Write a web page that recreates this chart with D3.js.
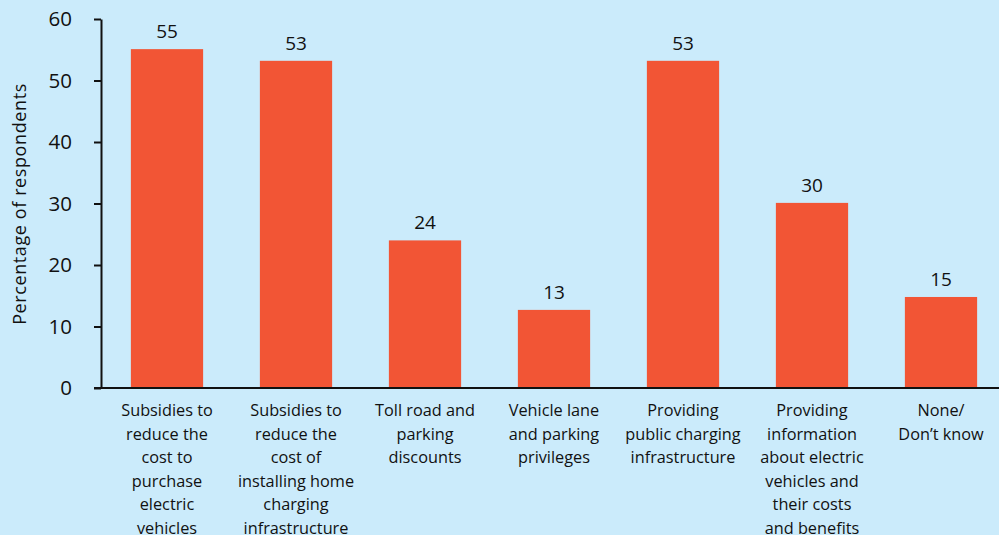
<!DOCTYPE html>
<html><head><meta charset="utf-8">
<script src="https://cdn.jsdelivr.net/npm/d3@7"></script>
<style>
html,body{margin:0;padding:0;background:#cbebfb;}
svg{display:block;font-family:"Open Sans", sans-serif;}
</style></head>
<body>
<svg id="chart" width="999" height="535"></svg>
<script>
const categories = [
  ["Subsidies to","reduce the","cost to","purchase","electric","vehicles"],
  ["Subsidies to","reduce the","cost of","installing home","charging","infrastructure"],
  ["Toll road and","parking","discounts"],
  ["Vehicle lane","and parking","privileges"],
  ["Providing","public charging","infrastructure"],
  ["Providing","information","about electric","vehicles and","their costs","and benefits"],
  ["None/","Don\u2019t know"]
];
const values = [55.1, 53.2, 24.0, 12.7, 53.2, 30.1, 14.8];
const valueLabels = ["55","53","24","13","53","30","15"];
const yTicks = [0,10,20,30,40,50,60];

const svg = d3.select("#chart");
const x = d3.scaleBand().domain(d3.range(values.length)).range([102.5,1005.5]).paddingInner(0.44).paddingOuter(0.22);
const y = d3.scaleLinear().domain([0,60]).range([388,19]);

svg.append("g").selectAll("rect").data(values).join("rect")
  .attr("x",(d,i)=>x(i)).attr("width",x.bandwidth())
  .attr("y",d=>y(d)).attr("height",d=>y(0)-y(d))
  .attr("fill","#f25535");

svg.append("g").selectAll("text").data(values).join("text")
  .attr("x",(d,i)=>x(i)+x.bandwidth()/2).attr("y",d=>y(d)-11)
  .attr("text-anchor","middle").attr("font-size",19).attr("font-weight",500).attr("fill","#111")
  .text((d,i)=>valueLabels[i]);

const yAxis = svg.append("g").attr("transform","translate(101,0)")
  .call(d3.axisLeft(y).tickValues(yTicks).tickSize(7).tickPadding(22).tickSizeOuter(0));
yAxis.select(".domain").attr("stroke","#111").attr("stroke-width",2);
yAxis.selectAll(".tick line").attr("stroke","#111").attr("stroke-width",2);
yAxis.selectAll(".tick text").attr("font-size",20.5).attr("fill","#111").attr("font-family","'Open Sans', sans-serif");

svg.append("line").attr("x1",94).attr("x2",999).attr("y1",y(0)).attr("y2",y(0))
  .attr("stroke","#111").attr("stroke-width",2);

const cat = svg.append("g").selectAll("text").data(categories).join("text")
  .attr("text-anchor","middle").attr("font-size",16.3).attr("fill","#111")
  .attr("x",(d,i)=>x(i)+x.bandwidth()/2).attr("y",416);
cat.each(function(lines){
  const t = d3.select(this);
  lines.forEach((l,j)=>{
    t.append("tspan").attr("x",t.attr("x")).attr("dy", j===0?0:23.6).text(l);
  });
});

svg.append("text").attr("transform","translate(26,204) rotate(-90)")
  .attr("text-anchor","middle").attr("font-size",18).attr("letter-spacing",0.6).attr("fill","#111")
  .text("Percentage of  respondents");
</script>
</body></html>
